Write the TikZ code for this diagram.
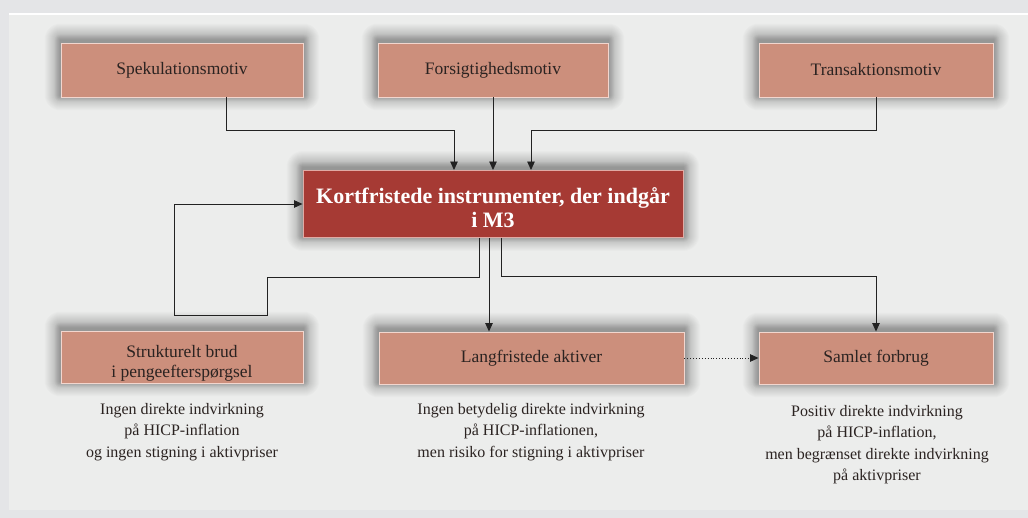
\documentclass[tikz,border=0pt]{standalone}
\usepackage{fontspec}
\setmainfont{Liberation Serif}
\usetikzlibrary{arrows.meta,calc,backgrounds}
\definecolor{outerbg}{HTML}{E4E5E7}
\definecolor{innerbg}{HTML}{ECEDEC}
\definecolor{salmon}{HTML}{CC8F7C}
\definecolor{salmonedge}{HTML}{F2D6CE}
\definecolor{mainred}{HTML}{A63A34}
\definecolor{mainedge}{HTML}{E0AAA4}
\definecolor{boxtext}{HTML}{2B2321}
\definecolor{linecol}{HTML}{222222}
\tikzset{
  motivbox/.style={draw=salmonedge, line width=0.9pt, fill=salmon, text=boxtext,
    inner sep=0pt, align=center, font=\fontsize{17.5}{20.5}\selectfont},
  mainbox/.style={draw=mainedge, line width=0.9pt, fill=mainred, text=white,
    inner sep=0pt, align=center, font=\fontsize{22}{23.5}\selectfont\bfseries},
  boxlabel/.style={inner sep=0pt, align=center},
  effecttext/.style={text=boxtext, inner sep=0pt, align=center, anchor=north,
    font=\fontsize{16}{21.5}\selectfont},
  conn/.style={draw=linecol, line width=0.9pt},
  arr/.style={conn, -{Triangle[length=8.5pt,width=7.5pt]}},
  dotarr/.style={conn, dotted, -{Triangle[length=8.5pt,width=7.5pt]}},
}
\begin{document}
\begin{tikzpicture}[x=1pt,y=-1pt]
\useasboundingbox (0,0) rectangle (1028,518);

\node[motivbox, minimum width=242pt, minimum height=54pt] (spek) at (182,70) {Spekulationsmotiv};
\node[motivbox, minimum width=230pt, minimum height=54pt] (fors) at (493,70) {Forsigtighedsmotiv};
\node[motivbox, minimum width=234pt, minimum height=54pt] (trans) at (876,70) {Transaktionsmotiv};
\node[mainbox, minimum width=380pt, minimum height=67pt] (main) at (493,204) {};
\node[mainbox, boxlabel, draw=none, fill=none] (mainlbl) at (493,207.5) {Kortfristede instrumenter, der indgår\\i M3};
\node[motivbox, minimum width=242pt, minimum height=52pt] (strukt) at (182,357) {};
\node[motivbox, boxlabel, draw=none, fill=none] (struktlbl) at (182,363.5) {Strukturelt brud\\i pengeefterspørgsel};
\node[motivbox, minimum width=305pt, minimum height=52pt] (lang) at (531.5,358) {Langfristede aktiver};
\node[motivbox, minimum width=234pt, minimum height=52pt] (samlet) at (876,358) {Samlet forbrug};

\node[effecttext] (struktfx) at (182,403) {Ingen direkte indvirkning\\på HICP-inflation\\og ingen stigning i aktivpriser};
\node[effecttext] (langfx) at (531,403) {Ingen betydelig direkte indvirkning\\på HICP-inflationen,\\men risiko for stigning i aktivpriser};
\node[effecttext] (samletfx) at (877,405) {Positiv direkte indvirkning\\på HICP-inflation,\\men begrænset direkte indvirkning\\på aktivpriser};

\begin{scope}[on background layer]
\fill[outerbg] (0,0) rectangle (1028,518);
\fill[innerbg] (9,15) rectangle (1028,510);
\draw[white, line width=1.6pt] (9,14) -- (1028,14);
\foreach \n in {spek,fors,trans,main,strukt,lang,samlet}{
  \foreach \r in {1,...,16}{
    \fill[black, opacity=0.017, rounded corners=\r pt]
      ($(\n.south west)+(-\r,\r-3)$) rectangle ($(\n.north east)+(\r,-\r-3)$);
  }
  \foreach \r in {1,...,6}{
    \fill[black, opacity=0.025, rounded corners=\r pt]
      ($(\n.south west)+(-\r,\r-2)$) rectangle ($(\n.north east)+(\r,-\r-2)$);
  }
}
\end{scope}

% top connectors
\coordinate (jspek) at ([xshift=44pt]spek.south);
\draw[arr] (jspek) -- ++(0,33) -| ([xshift=-39pt]main.north);
\draw[arr] (fors.south) -- (main.north);
\draw[arr] (trans.south) -- ++(0,33) -| ([xshift=38pt]main.north);

% bottom connectors
\coordinate (fbstart) at ([xshift=-14pt]main.south);
\coordinate (fbstep) at (267,277);
\coordinate (fbcorner) at (174,315);
\draw[arr] (fbstart) |- (fbstep) |- (fbcorner) |- (main.west);
\coordinate (midstart) at ([xshift=-4pt]main.south);
\draw[arr] (midstart) -- (midstart |- lang.north);
\coordinate (rstart) at ([xshift=8pt]main.south);
\draw[arr] (rstart) -- ++(0,39) -| (samlet.north);
\draw[dotarr] (lang.east) -- (samlet.west);
\end{tikzpicture}
\end{document}
